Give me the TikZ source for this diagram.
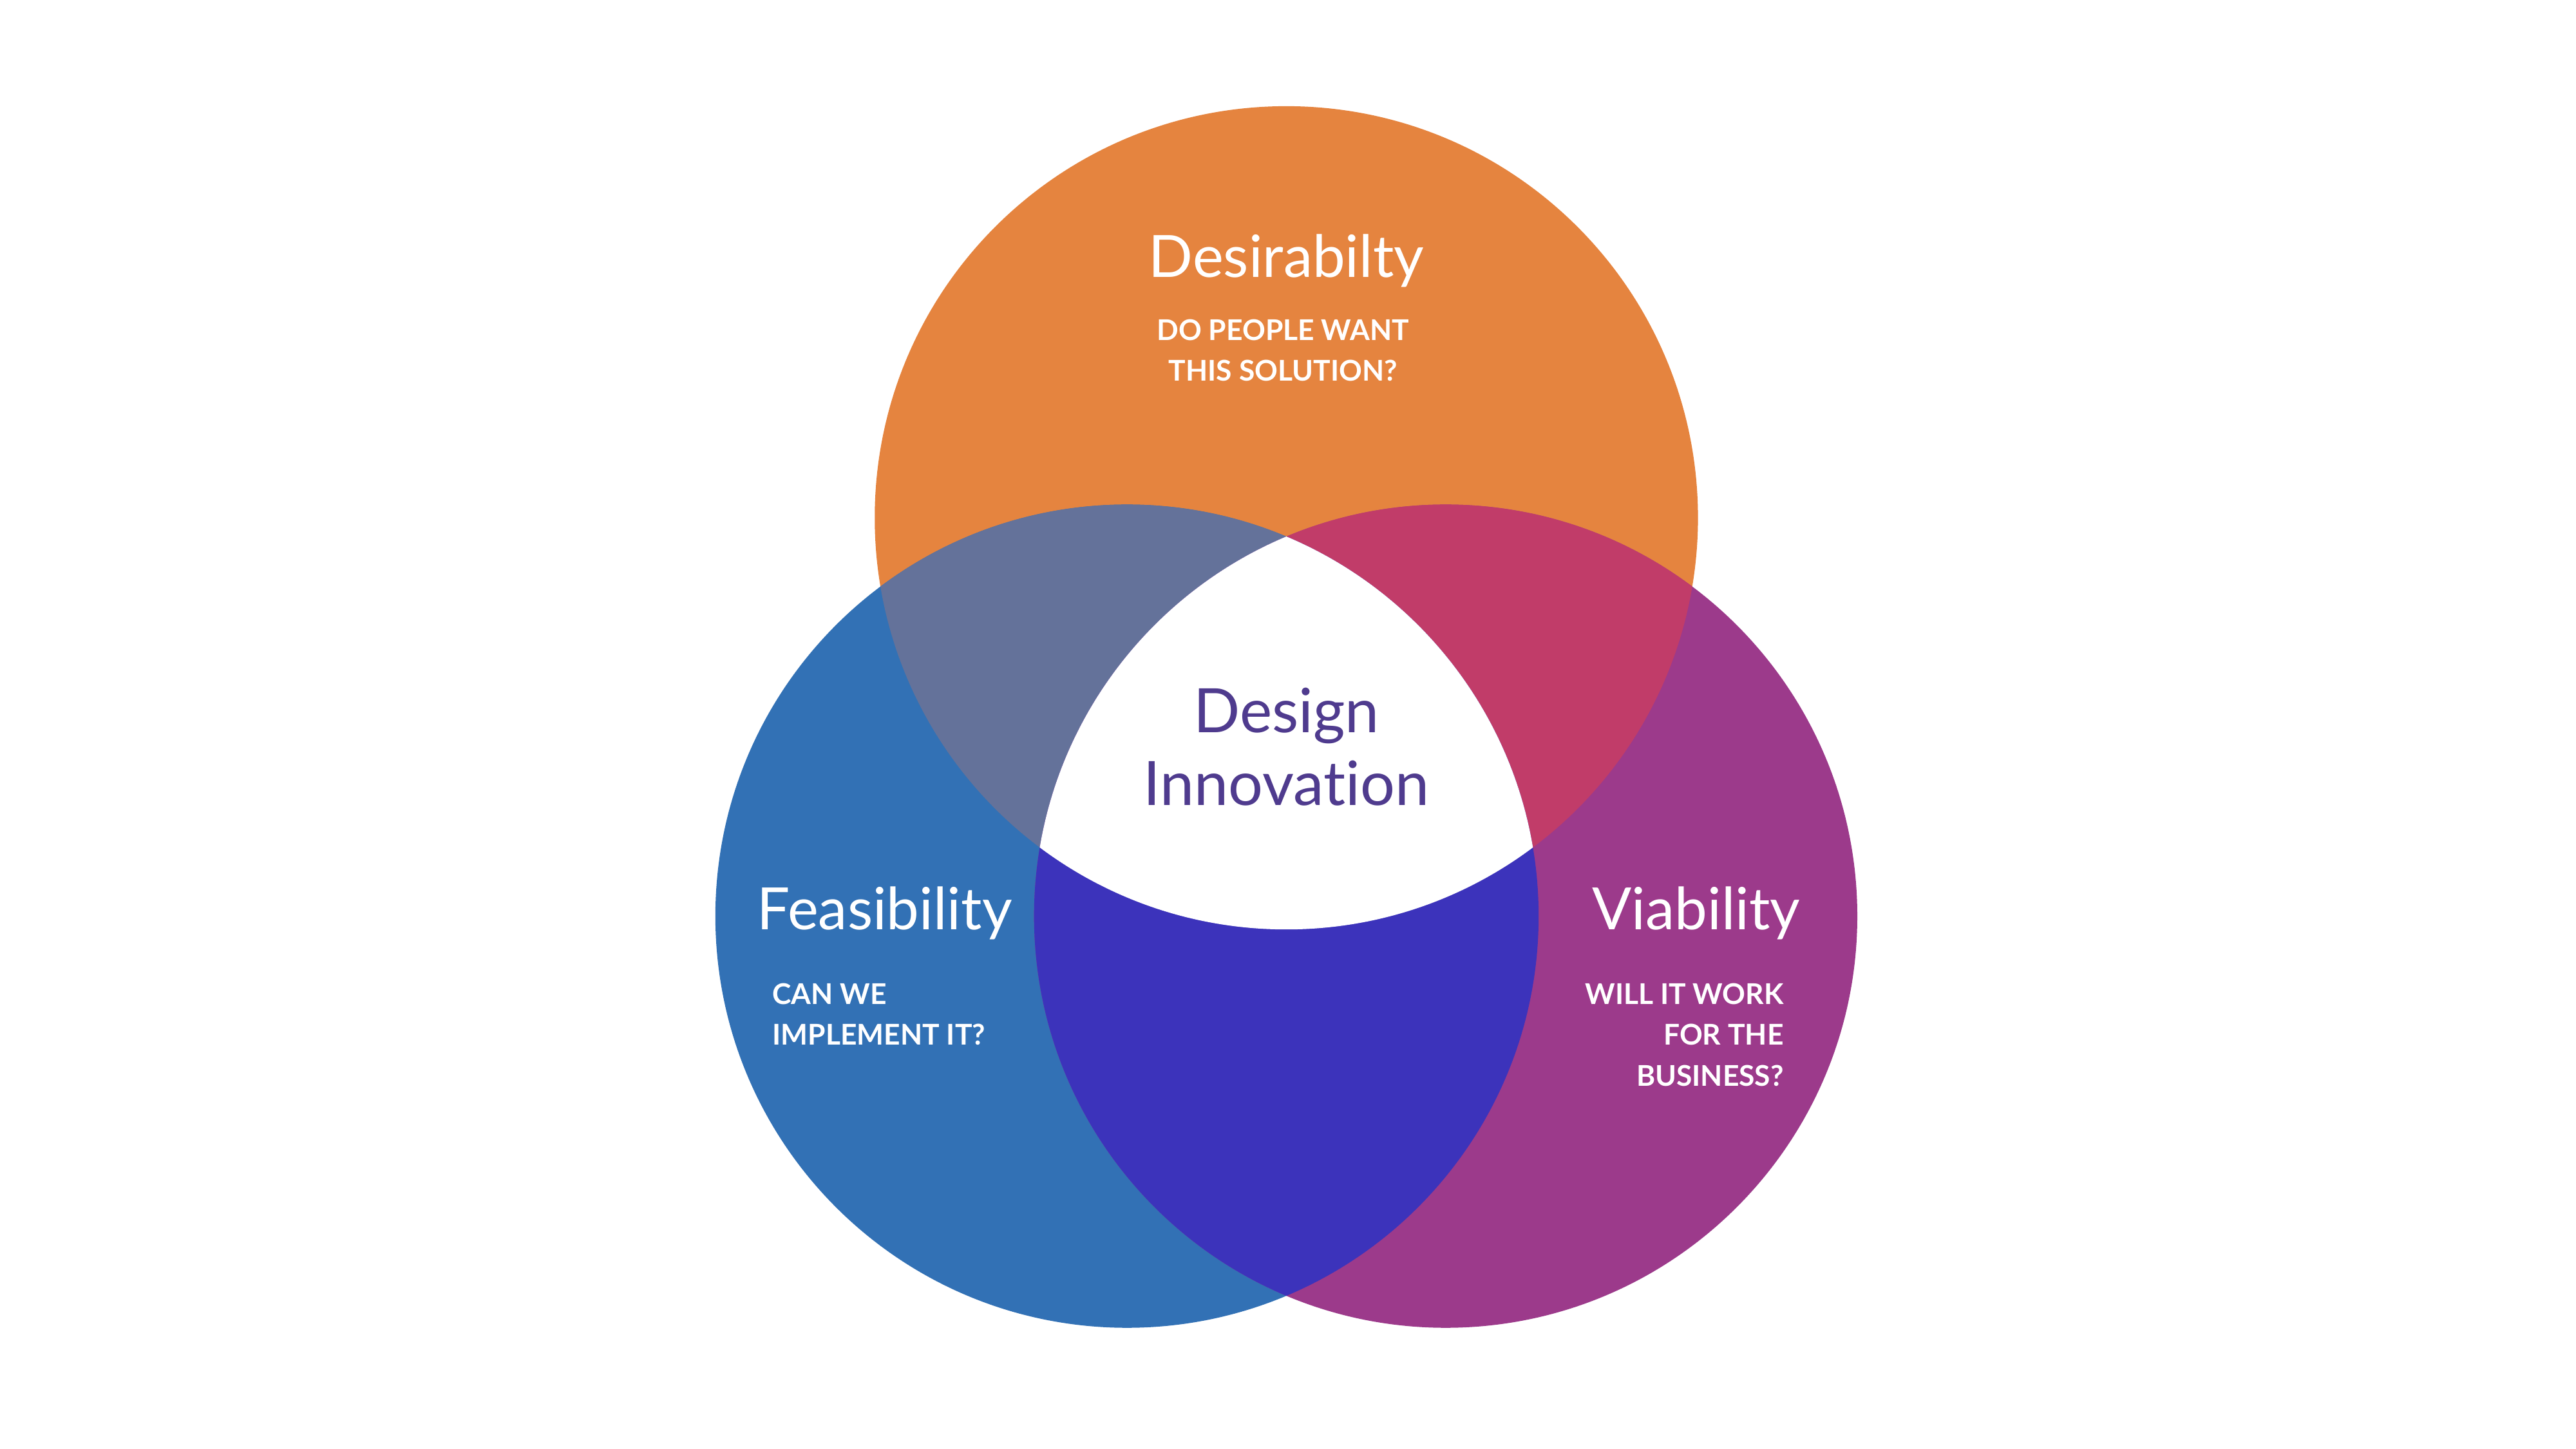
\documentclass[tikz,border=0pt]{standalone}
\usepackage{fontspec}
\setmainfont[Ligatures=NoCommon]{Lato}
\definecolor{cOr}{HTML}{E5843F}
\definecolor{cBl}{HTML}{3271B5}
\definecolor{cPu}{HTML}{9C3A8B}
\definecolor{cOB}{HTML}{64729A}
\definecolor{cOP}{HTML}{C13C69}
\definecolor{cBP}{HTML}{3C33BB}
\definecolor{cTx}{HTML}{4F3B8E}
\tikzset{title/.style={text=white,font=\fontsize{10}{12}\selectfont},
 sub/.style={text=white,font=\fontsize{4.9}{7}\selectfont\bfseries,align=center}}
\begin{document}
\begin{tikzpicture}
\useasboundingbox (0,0) rectangle (15.52,8.73);
\def\R{2.48}
\coordinate (T) at (7.75,5.61);
\coordinate (L) at (6.79,3.21);
\coordinate (P) at (8.71,3.21);
\fill[cOr] (T) circle (\R);
\fill[cBl] (L) circle (\R);
\fill[cPu] (P) circle (\R);
\begin{scope}\clip (T) circle (\R); \fill[cOB] (L) circle (\R); \fill[cOP] (P) circle (\R);\end{scope}
\begin{scope}\clip (L) circle (\R); \fill[cBP] (P) circle (\R);
 \clip (P) circle (\R); \fill[white] (T) circle (\R);\end{scope}
\node[title] (dt) at (7.75,7.16) {Desirabilty};
\node[sub] (ds) at (7.73,6.62) {DO PEOPLE WANT\\THIS SOLUTION?};
\node[text=cTx,font=\fontsize{10.5}{12.5}\selectfont,align=center] (di) at (7.75,4.23) {Design\\Innovation};
\node[title] (ft) at (5.33,3.23) {Feasibility};
\node[sub,align=left,anchor=north west] (fs) at (4.53,2.93) {CAN WE\\IMPLEMENT IT?};
\node[title] (vt) at (10.22,3.23) {Viability};
\node[sub,align=right,anchor=north east] (vs) at (10.87,2.93) {WILL IT WORK\\FOR THE\\BUSINESS?};
\end{tikzpicture}
\end{document}
